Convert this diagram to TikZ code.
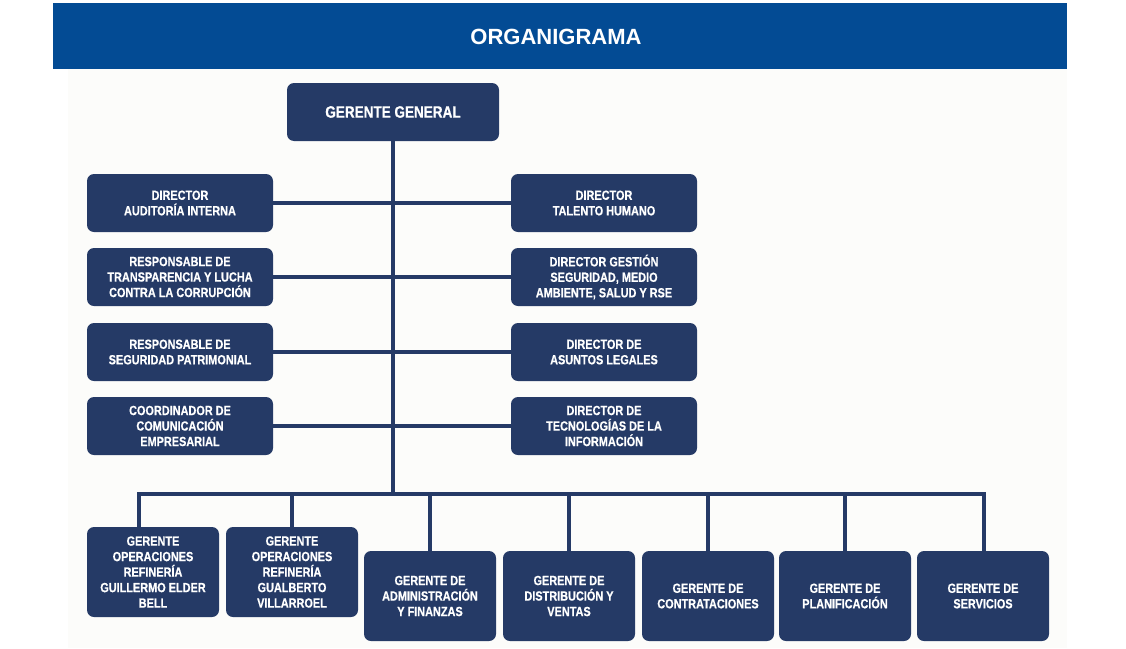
\documentclass[tikz,border=0pt]{standalone}
\usepackage{fontspec}
\setmainfont{Liberation Sans}
\newfontfamily\orgfont[FakeStretch=0.82,FakeBold=0.6]{Liberation Sans}
\definecolor{navy}{HTML}{253A66}
\definecolor{bandblue}{HTML}{034B94}
\definecolor{pagebg}{HTML}{FCFCFA}

\begin{document}
\begin{tikzpicture}[x=1pt,y=-1pt,
  cargo/.style={fill=navy, rounded corners=7pt, text=white, align=center, inner sep=2pt,
    font=\orgfont\bfseries\fontsize{13.3}{15.5}\selectfont},
  lado/.style={cargo, minimum width=186pt, minimum height=58pt},
  gerencia/.style={cargo, minimum width=132pt, minimum height=90pt},
  enlace/.style={draw=navy, line width=3.2pt}]
\useasboundingbox (0,0) rectangle (1126,648);
\fill[white] (0,0) rectangle (1126,648);
\fill[pagebg] (68,69) rectangle (1067,648);
% cabecera
\node[fill=bandblue, minimum width=1014pt, minimum height=66pt, inner sep=0pt] (banda) at (560,36) {};
\node[text=white, font=\bfseries\fontsize{22}{24}\selectfont] (titulo) at (556,37) {ORGANIGRAMA};

% gerente general
\node[cargo, minimum width=212pt, minimum height=58pt, font=\orgfont\bfseries\fontsize{16.5}{18}\selectfont] (gg) at (393,112) {GERENTE GENERAL};

% columna izquierda
\node[lado] (l1) at (180,203) {DIRECTOR\\AUDITORÍA INTERNA};
\node[lado] (l2) at (180,277) {RESPONSABLE DE\\TRANSPARENCIA Y LUCHA\\CONTRA LA CORRUPCIÓN};
\node[lado] (l3) at (180,352) {RESPONSABLE DE\\SEGURIDAD PATRIMONIAL};
\node[lado] (l4) at (180,426) {COORDINADOR DE\\COMUNICACIÓN\\EMPRESARIAL};

% columna derecha
\node[lado] (r1) at (604,203) {DIRECTOR\\TALENTO HUMANO};
\node[lado] (r2) at (604,277) {DIRECTOR GESTIÓN\\SEGURIDAD, MEDIO\\AMBIENTE, SALUD Y RSE};
\node[lado] (r3) at (604,352) {DIRECTOR DE\\ASUNTOS LEGALES};
\node[lado] (r4) at (604,426) {DIRECTOR DE\\TECNOLOGÍAS DE LA\\INFORMACIÓN};

% gerencias
\node[gerencia] (g1) at (153,572) {GERENTE\\OPERACIONES\\REFINERÍA\\GUILLERMO ELDER\\BELL};
\node[gerencia] (g2) at (292,572) {GERENTE\\OPERACIONES\\REFINERÍA\\GUALBERTO\\VILLARROEL};
\node[gerencia] (g3) at (430,596) {GERENTE DE\\ADMINISTRACIÓN\\Y FINANZAS};
\node[gerencia] (g4) at (569,596) {GERENTE DE\\DISTRIBUCIÓN Y\\VENTAS};
\node[gerencia] (g5) at (708,596) {GERENTE DE\\CONTRATACIONES};
\node[gerencia] (g6) at (845,596) {GERENTE DE\\PLANIFICACIÓN};
\node[gerencia] (g7) at (983,596) {GERENTE DE\\SERVICIOS};

% conexiones
\coordinate (busL) at (139,494);
\coordinate (busR) at (984,494);
\draw[enlace] (gg.south) -- (gg.south |- busL);
\foreach \i in {1,...,4}
  \draw[enlace] (l\i.east) -- (r\i.west);
\draw[enlace] (busL |- g1.north) -- (busL) -- (busR) -- (busR |- g7.north);
\foreach \i in {2,...,6}
  \draw[enlace] (g\i.north |- busL) -- (g\i.north);
\end{tikzpicture}
\end{document}
